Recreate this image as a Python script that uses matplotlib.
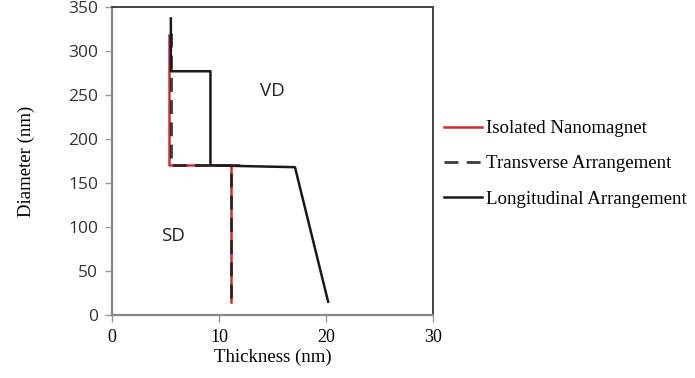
import matplotlib
matplotlib.use("Agg")
import matplotlib.pyplot as plt
import numpy as np

# data (thickness nm, diameter nm)
iso_x = [5.3, 5.3, 11.9, 11.1, 11.1]
iso_y = [318, 170, 170, 170, 15]
trans_x = [5.5, 5.5, 11.1, 11.1]
trans_y = [320, 170, 170, 15]
long_x = [5.5, 5.5, 9.2, 9.2, 17.1, 20.2]
long_y = [337, 277, 277, 170, 168, 15]

xticks = [0, 10, 20, 30]
yticks = [0, 50, 100, 150, 200, 250, 300, 350]

fig = plt.figure(figsize=(6.95, 3.78), dpi=100)
ax = fig.add_axes([112/695, 1-315/378, (433-112)/695, (315-7)/378])

serif = "Liberation Serif"
sans = "Open Sans"

l1, = ax.plot(iso_x, iso_y, color="#d42a34", lw=1.8, label="Isolated Nanomagnet")
l2, = ax.plot(trans_x, trans_y, color="#1a1a1a", lw=2.0, ls=(0, (5, 3)), alpha=0.85,
              label="Transverse Arrangement")
l3, = ax.plot(long_x, long_y, color="#1a1a1a", lw=1.8, label="Longitudinal Arrangement")

ax.set_xlim(0, 30)
ax.set_ylim(0, 350)
ax.set_xticks(xticks)
ax.set_yticks(yticks)
ax.set_xticklabels([str(t) for t in xticks], fontfamily=serif, fontsize=13)
ax.set_yticklabels([str(t) for t in yticks], fontfamily=sans, fontsize=12.5, color="#333333")
ax.tick_params(axis="both", direction="out", length=5, color="#999999", width=1)
ax.tick_params(axis="x", pad=5)
ax.tick_params(axis="y", pad=5)

for s in ["left", "bottom"]:
    ax.spines[s].set_color("#888888")
    ax.spines[s].set_linewidth(1.6)
for s in ["top", "right"]:
    ax.spines[s].set_color("#444444")
    ax.spines[s].set_linewidth(1.4)

ax.set_xlabel("Thickness (nm)", fontfamily=serif, fontsize=13.5, labelpad=2)
ax.set_ylabel("Diameter (nm)", fontfamily=serif, fontsize=13.5, labelpad=24)

ax.text(15.0, 255, "VD", fontfamily=sans, fontsize=13.5, ha="center", va="center", color="#222222")
ax.text(5.7, 90, "SD", fontfamily=sans, fontsize=13.5, ha="center", va="center", color="#222222")

fig.legend(handles=[l1, l2, l3], loc="upper left", bbox_to_anchor=(444/695, 1-120/378),
           frameon=False, prop={"family": serif, "size": 13.6}, handlelength=2.0,
           handletextpad=0.25, labelspacing=0.95, borderaxespad=0, borderpad=0)

fig.savefig("out.png", dpi=100)
